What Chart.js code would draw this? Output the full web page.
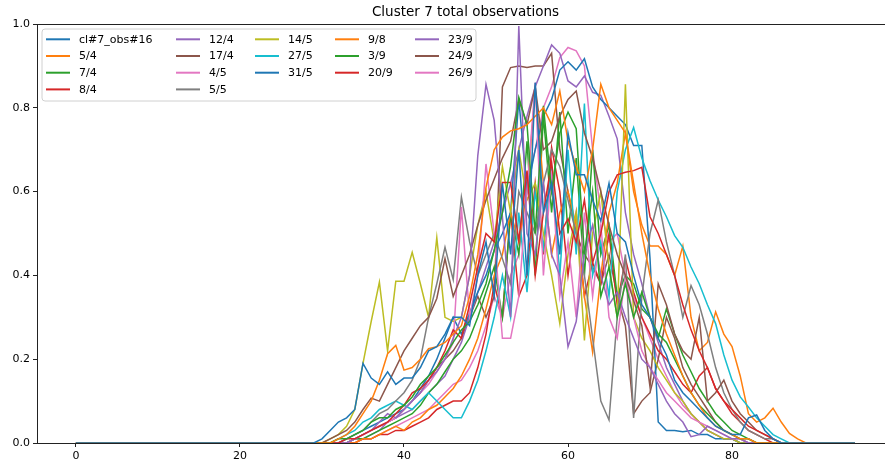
<!DOCTYPE html>
<html>
<head>
<meta charset="utf-8">
<script src="https://cdn.jsdelivr.net/npm/chart.js@4.4.0/dist/chart.umd.min.js"></script>
<style>
  body { margin: 0; overflow: hidden; background: #fff; }
  #wrap { width: 894px; height: 467px; }
</style>
</head>
<body>
<div id="wrap"><canvas id="chart" width="894" height="467"></canvas></div>
<script>
// x positions 0..95
const xs = Array.from({ length: 96 }, (_, i) => i);

const seriesNames = ['cl#7_obs#16', '5/4', '7/4', '8/4', '12/4', '17/4', '4/5', '5/5', '14/5',
    '27/5', '31/5', '9/8', '3/9', '20/9', '23/9', '24/9', '26/9'];

const colors = ['#1f77b4', '#ff7f0e', '#2ca02c', '#d62728', '#9467bd', '#8c564b', '#e377c2', '#7f7f7f',
    '#bcbd22', '#17becf', '#1f77b4', '#ff7f0e', '#2ca02c', '#d62728', '#9467bd', '#8c564b', '#e377c2'];

const xTicks = [0, 20, 40, 60, 80];
const yTicks = [0, 0.2, 0.4, 0.6, 0.8, 1.0];

// values, x = 0..95
const s_cl7 = [0,0,0,0,0,0,0,0,0,0,0,0,0,0,0,0,0,0,0,0,0,0,0,0,0,0,0,0,0,0,
    0.01,0.03,0.05,0.06,0.08,0.19,0.155,0.14,0.17,0.14,
    0.155,0.155,0.18,0.22,0.23,0.26,0.30,0.30,0.28,0.40,
    0.48,0.35,0.62,0.45,0.70,0.40,0.86,0.55,0.62,0.45,
    0.74,0.64,0.64,0.58,0.53,0.62,0.50,0.48,0.40,0.33,
    0.30,0.25,0.21,0.15,0.12,0.10,0.08,0.06,0.04,0.03,
    0.02,0.02,0.06,0.067,0.03,0.01,0,0,0,0,
    0,0,0,0,0,0];
const s_0504 = [0,0,0,0,0,0,0,0,0,0,0,0,0,0,0,0,0,0,0,0,0,0,0,0,0,0,0,0,0,0,
    0,0,0.01,0.02,0.04,0.07,0.10,0.15,0.213,0.233,
    0.174,0.18,0.20,0.225,0.23,0.24,0.26,0.28,0.35,0.45,
    0.61,0.70,0.73,0.745,0.75,0.76,0.78,0.80,0.76,0.84,
    0.72,0.66,0.60,0.70,0.856,0.80,0.77,0.74,0.62,0.50,
    0.40,0.32,0.26,0.21,0.16,0.12,0.09,0.06,0.04,0.03,
    0.02,0.01,0.01,0,0,0,0,0,0,0,
    0,0,0,0,0,0];
const s_0704 = [0,0,0,0,0,0,0,0,0,0,0,0,0,0,0,0,0,0,0,0,0,0,0,0,0,0,0,0,0,0,
    0,0,0.01,0.01,0.02,0.03,0.05,0.06,0.06,0.08,
    0.09,0.11,0.14,0.16,0.18,0.21,0.24,0.27,0.29,0.33,
    0.38,0.46,0.55,0.66,0.825,0.76,0.50,0.805,0.60,0.74,
    0.79,0.75,0.45,0.60,0.35,0.42,0.30,0.38,0.30,0.36,
    0.30,0.26,0.24,0.20,0.16,0.12,0.09,0.07,0.05,0.03,
    0.02,0.01,0.01,0,0,0,0,0,0,0,
    0,0,0,0,0,0];
const s_0804 = [0,0,0,0,0,0,0,0,0,0,0,0,0,0,0,0,0,0,0,0,0,0,0,0,0,0,0,0,0,0,
    0,0,0,0.01,0.01,0.02,0.03,0.04,0.05,0.07,
    0.09,0.12,0.13,0.15,0.18,0.22,0.27,0.25,0.33,0.42,
    0.50,0.48,0.622,0.622,0.483,0.65,0.40,0.55,0.67,0.50,
    0.535,0.48,0.58,0.43,0.50,0.60,0.64,0.646,0.65,0.658,
    0.54,0.50,0.45,0.40,0.33,0.27,0.22,0.18,0.13,0.10,
    0.08,0.06,0.04,0.03,0.02,0.01,0,0,0,0,
    0,0,0,0,0,0];
const s_1204 = [0,0,0,0,0,0,0,0,0,0,0,0,0,0,0,0,0,0,0,0,0,0,0,0,0,0,0,0,0,0,
    0,0,0,0,0.01,0.02,0.03,0.05,0.07,0.06,
    0.08,0.10,0.12,0.15,0.17,0.20,0.25,0.30,0.40,0.686,
    0.856,0.77,0.54,0.30,0.995,0.50,0.45,0.62,0.45,0.40,
    0.23,0.29,0.45,0.52,0.40,0.33,0.36,0.30,0.25,0.20,
    0.18,0.14,0.10,0.07,0.05,0.015,0.02,0.04,0.03,0.02,
    0.01,0.01,0,0,0,0,0,0,0,0,
    0,0,0,0,0,0];
const s_1704 = [0,0,0,0,0,0,0,0,0,0,0,0,0,0,0,0,0,0,0,0,0,0,0,0,0,0,0,0,0,0,
    0,0.01,0.02,0.03,0.05,0.08,0.107,0.10,0.14,0.18,
    0.22,0.25,0.28,0.30,0.345,0.44,0.35,0.40,0.45,0.52,
    0.58,0.63,0.68,0.72,0.82,0.76,0.85,0.70,0.72,0.78,
    0.82,0.84,0.74,0.68,0.60,0.52,0.45,0.40,0.34,0.28,
    0.134,0.38,0.33,0.26,0.22,0.20,0.30,0.10,0.12,0.15,
    0.10,0.07,0.05,0.03,0.02,0.01,0,0,0,0,
    0,0,0,0,0,0];
const s_0405 = [0,0,0,0,0,0,0,0,0,0,0,0,0,0,0,0,0,0,0,0,0,0,0,0,0,0,0,0,0,0,
    0,0,0,0,0.01,0.02,0.03,0.04,0.05,0.06,
    0.08,0.10,0.12,0.14,0.17,0.20,0.24,0.563,0.30,0.40,
    0.666,0.50,0.25,0.25,0.35,0.60,0.86,0.40,0.65,0.35,
    0.48,0.30,0.55,0.35,0.52,0.30,0.25,0.40,0.30,0.22,
    0.18,0.15,0.12,0.10,0.08,0.06,0.05,0.04,0.03,0.02,
    0.01,0.01,0,0,0,0,0,0,0,0,
    0,0,0,0,0,0];
const s_0505 = [0,0,0,0,0,0,0,0,0,0,0,0,0,0,0,0,0,0,0,0,0,0,0,0,0,0,0,0,0,0,
    0,0,0,0.01,0.02,0.03,0.05,0.07,0.08,0.10,
    0.12,0.15,0.20,0.30,0.38,0.467,0.39,0.587,0.48,0.40,
    0.45,0.50,0.44,0.38,0.60,0.55,0.50,0.62,0.70,0.66,
    0.58,0.50,0.40,0.25,0.10,0.055,0.30,0.45,0.06,0.35,
    0.50,0.58,0.48,0.40,0.30,0.376,0.33,0.26,0.18,0.12,
    0.08,0.05,0.03,0.02,0.01,0.01,0,0,0,0,
    0,0,0,0,0,0];
const s_1405 = [0,0,0,0,0,0,0,0,0,0,0,0,0,0,0,0,0,0,0,0,0,0,0,0,0,0,0,0,0,0,
    0,0.01,0.02,0.04,0.08,0.19,0.29,0.384,0.22,0.386,
    0.386,0.455,0.38,0.30,0.49,0.30,0.29,0.30,0.40,0.52,
    0.60,0.48,0.66,0.55,0.70,0.58,0.62,0.50,0.40,0.285,
    0.45,0.55,0.245,0.50,0.60,0.42,0.30,0.856,0.30,0.25,
    0.22,0.18,0.15,0.12,0.10,0.07,0.05,0.03,0.02,0.01,
    0.01,0,0,0,0,0,0,0,0,0,
    0,0,0,0,0,0];
const s_2705 = [0,0,0,0,0,0,0,0,0,0,0,0,0,0,0,0,0,0,0,0,0,0,0,0,0,0,0,0,0,0,
    0,0,0.01,0.02,0.03,0.05,0.06,0.08,0.09,0.10,
    0.09,0.08,0.10,0.12,0.10,0.08,0.06,0.06,0.10,0.15,
    0.22,0.30,0.40,0.30,0.55,0.36,0.60,0.467,0.66,0.40,
    0.70,0.45,0.81,0.40,0.48,0.35,0.60,0.70,0.753,0.68,
    0.626,0.58,0.54,0.495,0.467,0.42,0.38,0.33,0.285,0.21,
    0.15,0.11,0.086,0.06,0.04,0.02,0.01,0,0,0,
    0,0,0,0,0,0];
const s_3105 = [0,0,0,0,0,0,0,0,0,0,0,0,0,0,0,0,0,0,0,0,0,0,0,0,0,0,0,0,0,0,
    0,0,0,0.01,0.02,0.03,0.04,0.05,0.06,0.07,
    0.08,0.10,0.13,0.16,0.20,0.25,0.30,0.26,0.31,0.36,
    0.40,0.46,0.50,0.55,0.82,0.60,0.70,0.78,0.82,0.89,
    0.91,0.89,0.917,0.85,0.82,0.80,0.78,0.76,0.71,0.71,
    0.44,0.05,0.03,0.03,0.027,0.03,0.02,0.02,0.01,0.01,
    0.01,0,0,0,0,0,0,0,0,0,
    0,0,0,0,0,0];
const s_0908 = [0,0,0,0,0,0,0,0,0,0,0,0,0,0,0,0,0,0,0,0,0,0,0,0,0,0,0,0,0,0,
    0,0,0,0,0,0.01,0.01,0.02,0.03,0.04,
    0.03,0.05,0.06,0.08,0.09,0.11,0.13,0.16,0.20,0.25,
    0.32,0.40,0.45,0.55,0.48,0.60,0.84,0.62,0.45,0.55,
    0.60,0.52,0.35,0.217,0.40,0.55,0.62,0.74,0.60,0.52,
    0.47,0.47,0.45,0.40,0.47,0.30,0.22,0.24,0.313,0.26,
    0.23,0.16,0.07,0.05,0.06,0.083,0.05,0.023,0.01,0,
    0,0,0,0,0,0];
const s_0309 = [0,0,0,0,0,0,0,0,0,0,0,0,0,0,0,0,0,0,0,0,0,0,0,0,0,0,0,0,0,0,
    0,0,0,0,0.01,0.01,0.02,0.03,0.04,0.05,
    0.06,0.07,0.09,0.12,0.14,0.17,0.20,0.22,0.25,0.30,
    0.36,0.42,0.30,0.55,0.45,0.72,0.40,0.78,0.55,0.79,
    0.50,0.68,0.40,0.70,0.45,0.52,0.35,0.40,0.38,0.32,
    0.30,0.25,0.32,0.26,0.21,0.17,0.13,0.10,0.07,0.05,
    0.03,0.02,0.01,0,0,0,0,0,0,0,
    0,0,0,0,0,0];
const s_2009 = [0,0,0,0,0,0,0,0,0,0,0,0,0,0,0,0,0,0,0,0,0,0,0,0,0,0,0,0,0,0,
    0,0,0,0,0,0.01,0.01,0.02,0.02,0.03,
    0.03,0.04,0.05,0.06,0.08,0.09,0.10,0.10,0.12,0.18,
    0.26,0.38,0.30,0.55,0.35,0.40,0.62,0.45,0.705,0.60,
    0.40,0.55,0.35,0.43,0.38,0.50,0.33,0.44,0.36,0.30,
    0.26,0.22,0.20,0.17,0.14,0.12,0.16,0.18,0.13,0.10,
    0.07,0.05,0.03,0.02,0.01,0,0,0,0,0,
    0,0,0,0,0,0];
const s_2309 = [0,0,0,0,0,0,0,0,0,0,0,0,0,0,0,0,0,0,0,0,0,0,0,0,0,0,0,0,0,0,
    0,0,0,0,0.01,0.01,0.02,0.03,0.05,0.06,
    0.07,0.08,0.10,0.12,0.14,0.16,0.20,0.24,0.30,0.36,
    0.42,0.48,0.55,0.62,0.70,0.78,0.85,0.90,0.95,0.93,
    0.864,0.85,0.876,0.837,0.83,0.78,0.726,0.55,0.45,0.38,
    0.30,0.24,0.18,0.14,0.10,0.07,0.05,0.03,0.02,0.01,
    0.01,0,0,0,0,0,0,0,0,0,
    0,0,0,0,0,0];
const s_2409 = [0,0,0,0,0,0,0,0,0,0,0,0,0,0,0,0,0,0,0,0,0,0,0,0,0,0,0,0,0,0,
    0,0,0,0,0.01,0.02,0.03,0.04,0.05,0.06,
    0.08,0.10,0.12,0.15,0.18,0.20,0.22,0.25,0.30,0.35,
    0.30,0.35,0.85,0.896,0.90,0.896,0.90,0.90,0.93,0.70,
    0.60,0.50,0.45,0.42,0.38,0.45,0.35,0.28,0.07,0.10,
    0.12,0.20,0.30,0.25,0.18,0.14,0.11,0.08,0.05,0.03,
    0.02,0.01,0,0,0,0,0,0,0,0,
    0,0,0,0,0,0];
const s_2609 = [0,0,0,0,0,0,0,0,0,0,0,0,0,0,0,0,0,0,0,0,0,0,0,0,0,0,0,0,0,0,
    0,0,0,0,0,0.01,0.01,0.02,0.03,0.04,
    0.05,0.06,0.07,0.08,0.10,0.12,0.14,0.15,0.18,0.22,
    0.28,0.35,0.30,0.40,0.45,0.62,0.70,0.80,0.85,0.92,
    0.944,0.936,0.90,0.70,0.55,0.48,0.50,0.40,0.35,0.30,
    0.25,0.20,0.16,0.12,0.09,0.07,0.05,0.03,0.02,0.01,
    0.01,0,0,0,0,0,0,0,0,0,
    0,0,0,0,0,0];

const allSeries = [s_cl7, s_0504, s_0704, s_0804, s_1204, s_1704, s_0405, s_0505, s_1405,
    s_2705, s_3105, s_0908, s_0309, s_2009, s_2309, s_2409, s_2609];

const titleText = 'Cluster 7 total observations';
const FONT = '"DejaVu Sans", sans-serif';

// legend, title and frame drawn like matplotlib
const decor = {
    id: 'decor',
    afterDatasetsDraw(chart) {
        const ctx = chart.ctx;
        const a = chart.chartArea;
        ctx.save();
        ctx.strokeStyle = '#222';
        ctx.lineWidth = 1;
        ctx.strokeRect(a.left + 0.5, Math.round(a.top) + 0.5, a.right - a.left, Math.round(a.bottom - a.top));

        ctx.fillStyle = '#000';
        ctx.font = '13.5px ' + FONT;
        ctx.textAlign = 'center';
        ctx.textBaseline = 'middle';
        ctx.fillText(titleText, (a.left + a.right) / 2, 12.5);

        // legend box
        const bx = a.left + 5, by = a.top + 5, bw = 434, bh = 72, r = 3;
        ctx.beginPath();
        ctx.moveTo(bx + r, by);
        ctx.arcTo(bx + bw, by, bx + bw, by + bh, r);
        ctx.arcTo(bx + bw, by + bh, bx, by + bh, r);
        ctx.arcTo(bx, by + bh, bx, by, r);
        ctx.arcTo(bx, by, bx + bw, by, r);
        ctx.closePath();
        ctx.fillStyle = 'rgba(255,255,255,0.8)';
        ctx.fill();
        ctx.strokeStyle = '#d0d0d0';
        ctx.stroke();

        const colX = [46, 176, 255, 335, 415];
        const perCol = [4, 4, 3, 3, 3];
        ctx.font = '11px ' + FONT;
        ctx.textAlign = 'left';
        let k = 0;
        for (let c = 0; c < colX.length; c++) {
            for (let row = 0; row < perCol[c]; row++) {
                const y = 39.3 + row * 16.7;
                ctx.strokeStyle = colors[k];
                ctx.lineWidth = 2;
                ctx.beginPath();
                ctx.moveTo(colX[c], y);
                ctx.lineTo(colX[c] + 24, y);
                ctx.stroke();
                ctx.fillStyle = '#000';
                ctx.fillText(seriesNames[k], colX[c] + 33, y + 0.5);
                k++;
            }
        }
        ctx.restore();
    }
};

const datasets = allSeries.map((s, i) => ({
    label: seriesNames[i],
    data: s.map((v, j) => ({ x: xs[j], y: v })),
    borderColor: colors[i],
    backgroundColor: colors[i],
    borderWidth: 1.5,
    pointRadius: 0,
    tension: 0,
    fill: false
}));

const ctx = document.getElementById('chart').getContext('2d');
const myChart = new Chart(ctx, {
    type: 'line',
    data: { datasets: datasets },
    options: {
        responsive: false,
        animation: false,
        layout: { padding: { top: 24, left: 0, right: 0, bottom: 0 } },
        plugins: {
            legend: { display: false },
            title: { display: false },
            tooltip: { enabled: false }
        },
        scales: {
            x: {
                type: 'linear',
                min: -4.75,
                max: 99.75,
                afterBuildTicks: (scale) => { scale.ticks = xTicks.map(v => ({ value: v })); },
                afterFit: (scale) => { scale.height = 24; },
                grid: { drawOnChartArea: false, drawTicks: true, tickLength: 4, color: '#222' },
                border: { display: false },
                ticks: { color: '#000', font: { family: FONT, size: 11 }, padding: 3, maxRotation: 0 }
            },
            y: {
                min: 0,
                max: 1,
                afterBuildTicks: (scale) => { scale.ticks = yTicks.map(v => ({ value: v })); },
                afterFit: (scale) => { scale.width = 37; },
                grid: { drawOnChartArea: false, drawTicks: true, tickLength: 4, color: '#222' },
                border: { display: false },
                ticks: {
                    color: '#000', font: { family: FONT, size: 11 }, padding: 3,
                    callback: (v) => Number(v).toFixed(1)
                }
            }
        }
    },
    plugins: [decor]
});
</script>
</body>
</html>
